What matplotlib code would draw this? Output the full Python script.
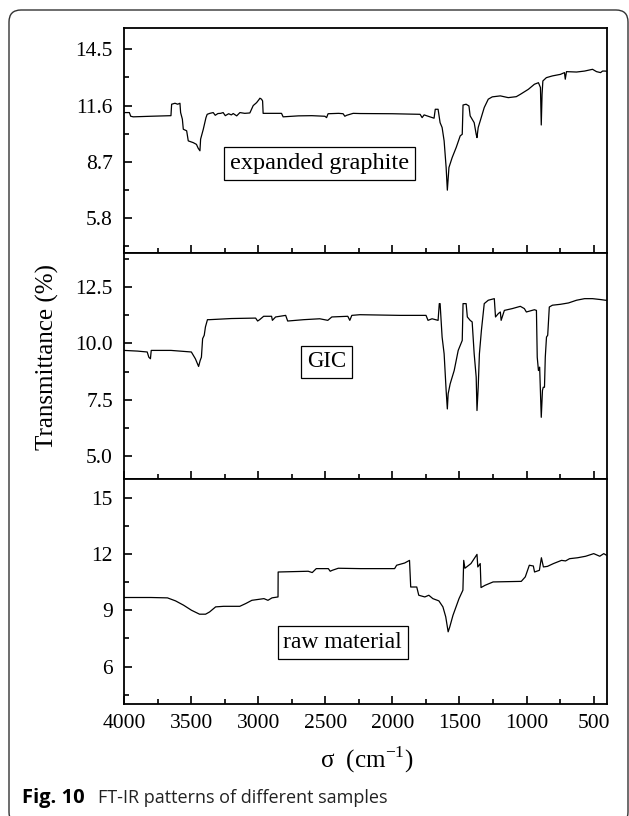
import numpy as np
import matplotlib.pyplot as plt
from matplotlib.patches import FancyBboxPatch
from matplotlib.transforms import IdentityTransform
from matplotlib.ticker import MultipleLocator, FormatStrFormatter

# wavenumber (cm-1) / transmittance (%)
eg_x = [4000, 3993, 3960, 3950, 3931, 3800, 3650, 3645, 3620, 3600, 3583, 3578, 3565, 3558,
        3533, 3521, 3484, 3460, 3447, 3434, 3429, 3409, 3389, 3380, 3360, 3335, 3320, 3300,
        3280, 3261, 3245, 3220, 3200, 3186, 3160, 3136, 3100, 3062, 3037, 3012, 2995, 2987,
        2975, 2967, 2963, 2900, 2826, 2814, 2700, 2600, 2503, 2490, 2479, 2400, 2367, 2354,
        2340, 2292, 2242, 2000, 1793, 1778, 1763, 1720, 1689, 1680, 1659, 1644, 1629, 1614,
        1599, 1590, 1578, 1554, 1524, 1494, 1479, 1473, 1450, 1429, 1420, 1390, 1375, 1369,
        1360, 1345, 1315, 1285, 1255, 1195, 1136, 1076, 1046, 986, 941, 911, 896, 890, 884,
        878, 852, 807, 747, 717, 711, 702, 627, 567, 508, 478, 448, 433, 412, 400]
eg_y = [11.22, 11.24, 11.24, 11.05, 11.02, 11.05, 11.08, 11.67, 11.72, 11.67, 11.72, 11.24, 10.9, 10.38,
        10.3, 9.78, 9.69, 9.6, 9.4, 9.27, 9.87, 10.38, 10.98, 11.15, 11.2, 11.24, 11.1, 11.19,
        11.2, 11.24, 11.08, 11.18, 11.12, 11.19, 11.07, 11.24, 11.2, 11.22, 11.6, 11.75, 11.9, 11.98,
        11.93, 11.84, 11.2, 11.2, 11.2, 11.02, 11.07, 11.08, 11.05, 10.98, 11.18, 11.2, 11.18, 11.05,
        11.1, 11.2, 11.19, 11.18, 11.15, 10.98, 11.12, 11.02, 10.95, 11.41, 11.41, 10.72, 10.47, 9.78,
        8.41, 7.24, 8.41, 8.92, 9.44, 10.04, 10.12, 11.63, 11.67, 11.58, 11.07, 10.72, 10.12, 9.95,
        10.47, 10.81, 11.5, 11.93, 12.05, 12.1, 12.01, 12.06, 12.18, 12.44, 12.7, 12.78, 12.53, 10.6, 12.18,
        12.87, 13.04, 13.13, 13.21, 13.3, 12.96, 13.35, 13.33, 13.38, 13.47, 13.35, 13.3, 13.38, 13.38, 13.36]

gic_x = [4000, 3900, 3827, 3815, 3803, 3797, 3650, 3498, 3468, 3444, 3432, 3423, 3414, 3402,
         3393, 3378, 3363, 3200, 3019, 3004, 2989, 2959, 2900, 2894, 2870, 2795, 2780, 2660,
         2541, 2481, 2451, 2332, 2317, 2302, 2242, 1943, 1749, 1734, 1704, 1659, 1650, 1644,
         1629, 1614, 1599, 1590, 1584, 1569, 1539, 1509, 1479, 1473, 1450, 1441, 1420, 1405,
         1390, 1375, 1369, 1360, 1351, 1336, 1315, 1285, 1240, 1231, 1210, 1195, 1189, 1165,
         1106, 1046, 1016, 1001, 941, 926, 920, 911, 902, 890, 881, 875, 866, 860, 851, 842,
         830, 807, 747, 687, 627, 567, 508, 448, 412, 400]
gic_y = [9.69, 9.66, 9.62, 9.39, 9.32, 9.69, 9.69, 9.62, 9.32, 8.98, 9.25, 9.39, 10.21, 10.36,
         10.73, 11.05, 11.05, 11.1, 11.12, 10.99, 11.05, 11.2, 11.2, 11.02, 11.17, 11.24, 10.99, 11.05,
         11.09, 11.02, 11.17, 11.2, 11.02, 11.24, 11.27, 11.24, 11.24, 11.02, 11.09, 11.02, 11.76, 11.76,
         10.28, 9.54, 7.92, 7.1, 7.77, 8.21, 8.8, 9.69, 10.13, 11.76, 11.76, 11.17, 11.02, 10.95,
         9.54, 8.51, 7.03, 8.06, 9.54, 10.58, 11.76, 11.91, 11.98, 11.17, 11.32, 11.39, 11.02, 11.46,
         11.54, 11.64, 11.54, 11.39, 11.49, 11.46, 9.39, 8.8, 8.95, 6.73, 7.92, 8.06, 8.06, 9.39, 10.28, 10.36,
         11.61, 11.69, 11.73, 11.79, 11.91, 11.98, 11.98, 11.94, 11.91, 11.91]

raw_x = [4000, 3800, 3676, 3616, 3556, 3497, 3437, 3392, 3362, 3317, 3257, 3137, 3092, 3047,
         2957, 2927, 2897, 2852, 2851, 2627, 2597, 2567, 2477, 2463, 2448, 2403, 2238, 1983,
         1968, 1908, 1872, 1863, 1818, 1803, 1758, 1728, 1698, 1653, 1623, 1602, 1584, 1572,
         1548, 1503, 1474, 1468, 1459, 1414, 1369, 1363, 1345, 1339, 1309, 1249, 1039, 1009,
         979, 949, 940, 904, 889, 874, 844, 799, 739, 709, 679, 619, 559, 499, 454, 424, 403]
raw_y = [9.68, 9.68, 9.66, 9.5, 9.27, 9.0, 8.79, 8.79, 8.91, 9.18, 9.21, 9.21, 9.36, 9.53,
         9.62, 9.53, 9.66, 9.71, 11.04, 11.08, 11.01, 11.22, 11.22, 11.08, 11.13, 11.24, 11.22, 11.22,
         11.4, 11.52, 11.66, 10.24, 10.24, 9.8, 9.71, 9.8, 9.62, 9.5, 9.18, 8.65, 7.85, 8.11,
         8.73, 9.62, 10.07, 11.66, 11.24, 11.49, 11.98, 11.31, 11.49, 10.21, 10.33, 10.51, 10.54, 10.78,
         11.4, 11.36, 11.04, 11.13, 11.8, 11.31, 11.34, 11.49, 11.66, 11.63, 11.75, 11.8, 11.88, 12.02,
         11.88, 12.02, 11.93]

panels = [
    (eg_x, eg_y, (4.0, 15.6), 2.9, '%.1f', 'expanded graphite', (2541, 8.6), 17.5),
    (gic_x, gic_y, (4.0, 14.0), 2.5, '%.1f', 'GIC', (2489, 9.18), 16.5),
    (raw_x, raw_y, (4.0, 16.0), 3.0, '%.0f', 'raw material', (2369, 7.26), 17),
]

plt.rcParams['font.family'] = 'Liberation Serif'
plt.rcParams['mathtext.fontset'] = 'custom'
plt.rcParams['mathtext.rm'] = 'Liberation Serif'

W, H = 629, 816
fig = plt.figure(figsize=(W / 100, H / 100), dpi=100)

left, right = 124, 607
edges = [28, 253, 479, 704]

for i, (x, y, ylim, step, fmt, name, pos, fs) in enumerate(panels):
    top_px, bot_px = edges[i], edges[i + 1]
    ax = fig.add_axes([left / W, 1 - bot_px / H, (right - left) / W, (bot_px - top_px) / H])
    ax.plot(x, y, color='black', lw=0.9)
    ax.set_xlim(4000, 400)
    ax.set_ylim(*ylim)
    ax.xaxis.set_major_locator(MultipleLocator(500))
    ax.xaxis.set_minor_locator(MultipleLocator(250))
    ax.yaxis.set_major_locator(MultipleLocator(step))
    ax.yaxis.set_minor_locator(MultipleLocator(step / 2))
    ax.yaxis.set_major_formatter(FormatStrFormatter(fmt))
    ax.tick_params(which='both', direction='in', top=False, right=False, width=1.2, labelsize=15.5)
    ax.tick_params(which='major', length=6)
    ax.tick_params(which='minor', length=3.5)
    ax.tick_params(axis='y', pad=8)
    ax.tick_params(axis='x', pad=7)
    if i < 2:
        ax.tick_params(axis='x', labelbottom=False)
    for sp in ax.spines.values():
        sp.set_linewidth(1.3)
    ax.text(pos[0], pos[1], name, fontsize=fs, ha='center', va='center',
            bbox=dict(boxstyle='square,pad=0.25', fc='white', ec='black', lw=0.9))

fig.text(47 / W, 1 - 357 / H, 'Transmittance (%)', rotation=90, ha='center', va='center', fontsize=18)
fig.text(367 / W, 1 - 760 / H, 'σ  (cm$^{\\mathrm{-1}}$)', ha='center', va='center', fontsize=18)

# caption and rounded frame of the page
fig.text(22 / W, 1 - 798 / H, 'Fig. 10', fontsize=14.5, fontweight='bold', family='Open Sans', va='center')
fig.text(98 / W, 1 - 798 / H, 'FT-IR patterns of different samples', fontsize=13, family='Open Sans',
         va='center', color='#222222')
frame = FancyBboxPatch((9, -8), 619, 814, boxstyle='round,pad=0,rounding_size=12',
                       transform=IdentityTransform(), fc='none', ec='#333333', lw=1.0)
fig.patches.append(frame)

fig.savefig('out.png', dpi=100)
